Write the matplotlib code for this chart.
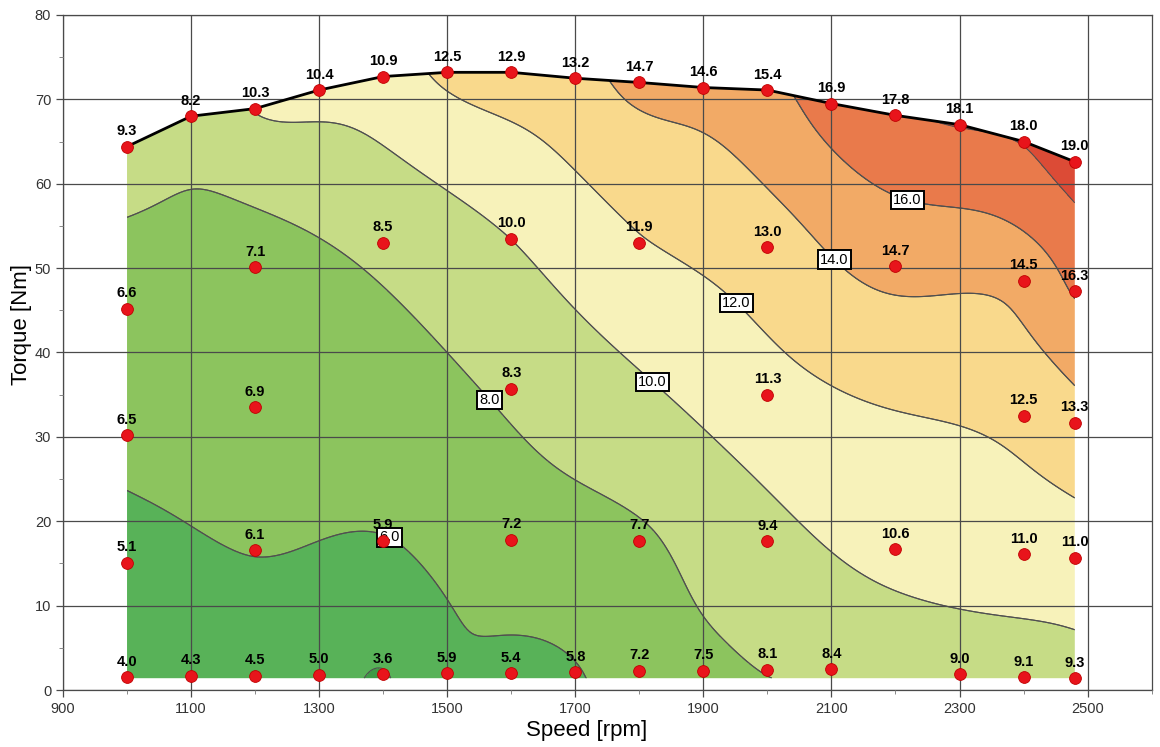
import numpy as np
import matplotlib
matplotlib.use("Agg")
import matplotlib.pyplot as plt
from matplotlib.patches import Polygon
from matplotlib.ticker import MultipleLocator

plt.rcParams['font.family'] = ['Liberation Sans', 'DejaVu Sans']

# ---- measurement data: speed [rpm], torque [Nm], value ----
top_speed = [1000, 1100, 1200, 1300, 1400, 1500, 1600, 1700, 1800, 1900, 2000, 2100, 2200, 2300, 2400, 2480]
top_torque = [64.4, 68.0, 68.9, 71.1, 72.7, 73.2, 73.2, 72.5, 72.0, 71.4, 71.1, 69.5, 68.1, 67.0, 65.0, 62.6]
top_value = [9.3, 8.2, 10.3, 10.4, 10.9, 12.5, 12.9, 13.2, 14.7, 14.6, 15.4, 16.9, 17.8, 18.1, 18.0, 19.0]

r50_speed = [1000, 1200, 1400, 1600, 1800, 2000, 2200, 2400, 2480]
r50_torque = [45.2, 50.1, 53.0, 53.5, 53.0, 52.5, 50.2, 48.5, 47.3]
r50_value = [6.6, 7.1, 8.5, 10.0, 11.9, 13.0, 14.7, 14.5, 16.3]

r33_speed = [1000, 1200, 1600, 2000, 2400, 2480]
r33_torque = [30.2, 33.5, 35.7, 35.0, 32.5, 31.7]
r33_value = [6.5, 6.9, 8.3, 11.3, 12.5, 13.3]

r17_speed = [1000, 1200, 1400, 1600, 1800, 2000, 2200, 2400, 2480]
r17_torque = [15.1, 16.6, 17.7, 17.8, 17.7, 17.6, 16.7, 16.1, 15.7]
r17_value = [5.1, 6.1, 5.9, 7.2, 7.7, 9.4, 10.6, 11.0, 11.0]

bot_speed = [1000, 1100, 1200, 1300, 1400, 1500, 1600, 1700, 1800, 1900, 2000, 2100, 2300, 2400, 2480]
bot_torque = [1.5, 1.7, 1.7, 1.8, 1.9, 2.0, 2.0, 2.1, 2.3, 2.3, 2.4, 2.5, 1.9, 1.5, 1.4]
bot_value = [4.0, 4.3, 4.5, 5.0, 3.6, 5.9, 5.4, 5.8, 7.2, 7.5, 8.1, 8.4, 9.0, 9.1, 9.3]

levels = [2, 4, 6, 8, 10, 12, 14, 16, 18, 20]
band_colors = ['#3f9a45', '#58b258', '#8cc45e', '#c6dc86', '#f7f2ba', '#f9d98c',
               '#f2aa66', '#e97a4b', '#dc4b36']
label_levels = [6, 8, 10, 12, 14, 16]
label_pos = [(1408, 17.8), (1570, 34.6), (1819, 36.4), (1950, 45.8), (2103, 50.9), (2220, 58.4)]

xs = np.array(top_speed + r50_speed + r33_speed + r17_speed + bot_speed, float)
ys = np.array(top_torque + r50_torque + r33_torque + r17_torque + bot_torque, float)
vs = np.array(top_value + r50_value + r33_value + r17_value + bot_value, float)

# ---- smoothing thin-plate-spline surface through the measured points ----
sx, sy = 200.0, 15.0
smooth = 0.07
def kern(r):
    with np.errstate(divide='ignore', invalid='ignore'):
        k = r ** 2 * np.log(r)
    return np.nan_to_num(k)

px, py = xs / sx, ys / sy
n = len(xs)
R = np.hypot(px[:, None] - px[None, :], py[:, None] - py[None, :])
K = kern(R) + smooth * np.eye(n)
P = np.column_stack([np.ones(n), px, py])
A = np.zeros((n + 3, n + 3))
A[:n, :n] = K
A[:n, n:] = P
A[n:, :n] = P.T
b = np.concatenate([vs, np.zeros(3)])
sol = np.linalg.solve(A, b)
w, a = sol[:n], sol[n:]

x0, x1 = min(xs), max(xs)
y0, y1 = min(ys), max(ys)
gx = np.linspace(x0, x1, 400)
gy = np.linspace(y0, y1, 300)
GX, GY = np.meshgrid(gx, gy)
qx, qy = GX.ravel() / sx, GY.ravel() / sy
Rq = np.hypot(qx[:, None] - px[None, :], qy[:, None] - py[None, :])
Z = (kern(Rq) @ w + a[0] + a[1] * qx + a[2] * qy).reshape(GX.shape)

# ---- figure ----
fig = plt.figure(figsize=(11.6, 7.47), dpi=100)
ax = fig.add_axes([0.0543, 0.0763, 0.9385, 0.9037])

clip = Polygon([(x0, y0), (x1, y0)] + list(zip(top_speed[::-1], top_torque[::-1])),
               closed=True, transform=ax.transData, facecolor='none', edgecolor='none')
ax.add_patch(clip)

cf = ax.contourf(GX, GY, Z, levels=levels, colors=band_colors, zorder=1)
cf.set_clip_path(clip)
cl = ax.contour(GX, GY, Z, levels=levels[1:-1], colors='#505050', linewidths=0.8, zorder=1.5)
cl.set_clip_path(clip)
cl2 = ax.contour(GX, GY, Z, levels=label_levels, colors='#505050', linewidths=0.8, zorder=1.5)
cl2.set_clip_path(clip)

texts = ax.clabel(cl2, manual=label_pos, fmt='%.1f', inline=False,
                  fontsize=10.5, colors='black')
for t in texts:
    t.set_bbox(dict(boxstyle='square,pad=0.15', fc='white', ec='black', lw=1.4))
    t.set_zorder(4)
    t.set_rotation(0)

ax.plot(top_speed, top_torque, color='black', lw=2.0, zorder=3)
ax.scatter(xs, ys, s=72, c='#e8141b', edgecolors='#c00000', linewidths=0.6, zorder=5)
for x, y, v in zip(xs, ys, vs):
    ax.annotate(f'{v:.1f}', (x, y), xytext=(0, 6), textcoords='offset points',
                ha='center', va='bottom', fontsize=10.5, fontweight='bold', color='black', zorder=6)

ax.set_xlim(900, 2600)
ax.set_ylim(0, 80)
ax.set_xticks(np.arange(900, 2501, 200))
ax.xaxis.set_minor_locator(MultipleLocator(100))
ax.yaxis.set_major_locator(MultipleLocator(10))
ax.yaxis.set_minor_locator(MultipleLocator(5))
ax.set_axisbelow(False)
ax.grid(True, which='major', color='#4a4a4a', lw=0.9)
ax.tick_params(which='major', direction='out', length=5, width=0.9, color='#4a4a4a',
               labelsize=10.5, labelcolor='#333333')
ax.tick_params(which='minor', direction='out', length=3, width=0.7, color='#888888')
for s in ax.spines.values():
    s.set_color('#4a4a4a')
    s.set_linewidth(0.9)

ax.set_xlabel('Speed [rpm]', fontsize=16)
ax.set_ylabel('Torque [Nm]', fontsize=16)
ax.xaxis.set_label_coords(0.481, -0.044)
ax.yaxis.set_label_coords(-0.0285, 0.541)

fig.savefig('out.png', dpi=100)
